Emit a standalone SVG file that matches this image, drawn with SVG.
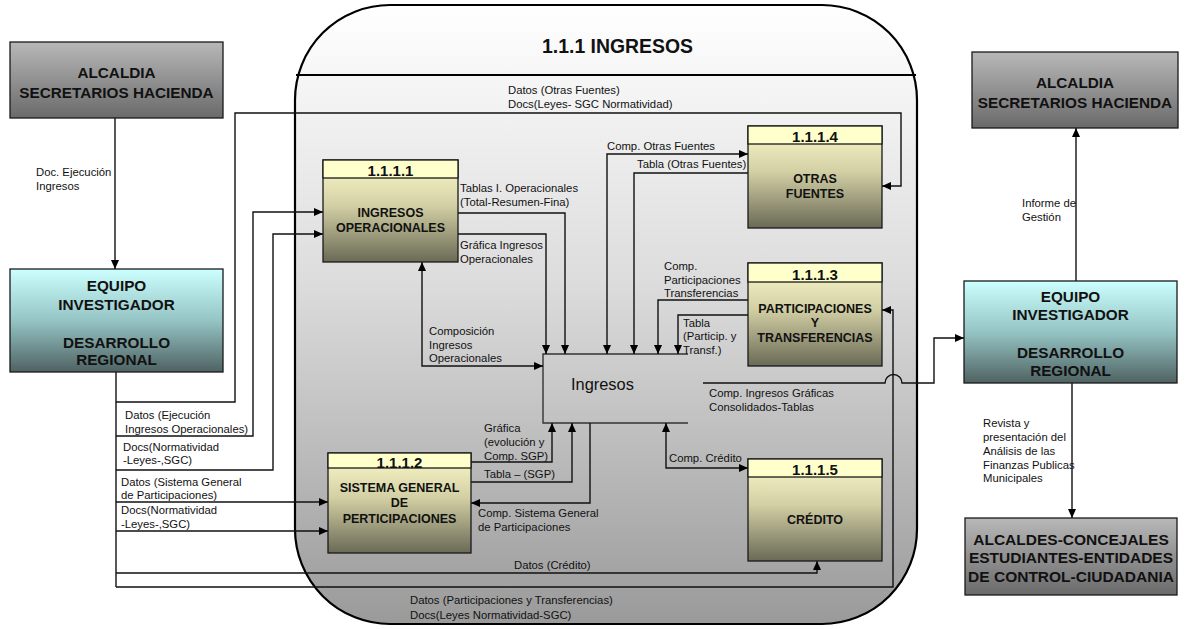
<svg xmlns="http://www.w3.org/2000/svg" width="1185" height="629" viewBox="0 0 1185 629">
  <defs>
    <linearGradient id="gCont" x1="0" y1="0" x2="0" y2="1">
      <stop offset="0" stop-color="#ffffff"/>
      <stop offset="0.45" stop-color="#dcdcdc"/>
      <stop offset="1" stop-color="#9a9a9a"/>
    </linearGradient>
    <linearGradient id="gProc" x1="0" y1="0" x2="0" y2="1">
      <stop offset="0" stop-color="#fdfbcd"/>
      <stop offset="0.45" stop-color="#d2cfa4"/>
      <stop offset="1" stop-color="#6a6a56"/>
    </linearGradient>
    <linearGradient id="gGray" x1="0" y1="0" x2="0" y2="1">
      <stop offset="0" stop-color="#b8b8b8"/>
      <stop offset="1" stop-color="#6a6a6a"/>
    </linearGradient>
    <linearGradient id="gCyan" x1="0" y1="0" x2="0" y2="1">
      <stop offset="0" stop-color="#ccffff"/>
      <stop offset="0.5" stop-color="#95c4c4"/>
      <stop offset="1" stop-color="#4f6262"/>
    </linearGradient>
    <marker id="ah" markerUnits="userSpaceOnUse" markerWidth="10" markerHeight="9" refX="9" refY="4" orient="auto-start-reverse">
      <path d="M0,0 L9,4 L0,8 Z" fill="#000"/>
    </marker>
  </defs>
  <style>
    text{font-family:"Liberation Sans",Arial,sans-serif;fill:#111}
    .lbl{font-size:11.3px}
    .ext{font-size:15.3px;font-weight:bold;text-anchor:middle}
    .big{font-size:15.5px;font-weight:bold;text-anchor:middle}
    .pid{font-size:15px;font-weight:bold;text-anchor:middle}
    .pname{font-size:12.5px;font-weight:bold;text-anchor:middle}
    .edge{fill:none;stroke:#111;stroke-width:1.4}
    .arr{marker-end:url(#ah)}
    .both{marker-start:url(#ah);marker-end:url(#ah)}
    .frame{stroke:#1a1a1a;stroke-width:1.3}
    .hdr{fill:#ffffcc;stroke:#1a1a1a;stroke-width:1.3}
  </style>

  <rect width="1185" height="629" fill="#ffffff"/>

  <!-- 1.1.1 process boundary -->
  <g id="ingresos-boundary">
    <path d="M390,5 H822 A95,95 0 0 1 917,100 V529 A95,95 0 0 1 822,624 H390 A95,95 0 0 1 295,529 V100 A95,95 0 0 1 390,5 Z" fill="url(#gCont)" stroke="#000" stroke-width="2.2"/>
    <line x1="296" y1="75" x2="916" y2="75" stroke="#000" stroke-width="2"/>
    <text x="617.5" y="53" style="font-size:19.4px;font-weight:bold;text-anchor:middle">1.1.1 INGRESOS</text>
  </g>

  <!-- data store -->
  <g id="store-ingresos">
    <path d="M688,354 H543 V423 H688" fill="none" stroke="#333" stroke-width="1.4"/>
    <text x="571" y="390" style="font-size:16.4px">Ingresos</text>
  </g>

  <!-- flows -->
  <g id="connectors">
    <path class="edge arr" d="M115,118 V269"/>
    <path class="edge" d="M116,372 V587"/>
    <path class="edge arr" d="M116,402 H235 V113 H901 V186 H882"/>
    <path class="edge arr" d="M116,436 H253 V212 H323"/>
    <path class="edge arr" d="M116,470 H273 V234 H323"/>
    <path class="edge arr" d="M116,502 H328"/>
    <path class="edge arr" d="M116,531 H328"/>
    <path class="edge arr" d="M116,573 H817 V561"/>
    <path class="edge arr" d="M116,587 H893 V310 H882"/>

    <path class="edge arr" d="M458,213 H565 V354"/>
    <path class="edge arr" d="M458,234 H546 V354"/>
    <path class="edge both" d="M422,262 V366 H543"/>
    <path class="edge both" d="M748,154 H607 V354"/>
    <path class="edge arr" d="M748,173 H634 V354"/>
    <path class="edge arr" d="M748,300 H658 V354"/>
    <path class="edge arr" d="M748,315 H678 V354"/>

    <path class="edge arr" d="M471,462 H552 V423"/>
    <path class="edge arr" d="M471,482 H572 V423"/>
    <path class="edge arr" d="M590,423 V503 H471"/>
    <path class="edge both" d="M666,423 V468 H748"/>

    <path class="edge arr" d="M703,383 H885 A8.5,8.5 0 0 1 902,383 H934 V338 H964"/>
    <path class="edge arr" d="M1076,281 V128"/>
    <path class="edge arr" d="M1072,383 V518"/>

    <!-- flow labels -->
    <text class="lbl" x="36" y="176">Doc. Ejecución</text>
    <text class="lbl" x="36" y="190">Ingresos</text>
    <text class="lbl" x="508" y="94">Datos (Otras Fuentes)</text>
    <text class="lbl" x="508" y="108">Docs(Leyes- SGC Normatividad)</text>
    <text class="lbl" x="125" y="419">Datos (Ejecución</text>
    <text class="lbl" x="125" y="433">Ingresos Operacionales)</text>
    <text class="lbl" x="123" y="451">Docs(Normatividad</text>
    <text class="lbl" x="123" y="464">-Leyes-,SGC)</text>
    <text class="lbl" x="121" y="486">Datos (Sistema General</text>
    <text class="lbl" x="121" y="499">de Participaciones)</text>
    <text class="lbl" x="121" y="514">Docs(Normatividad</text>
    <text class="lbl" x="121" y="528">-Leyes-,SGC)</text>
    <text class="lbl" x="514" y="569">Datos (Crédito)</text>
    <text class="lbl" x="410" y="604">Datos (Participaciones y Transferencias)</text>
    <text class="lbl" x="410" y="619">Docs(Leyes Normatividad-SGC)</text>

    <text class="lbl" x="460" y="192">Tablas I. Operacionales</text>
    <text class="lbl" x="460" y="206">(Total-Resumen-Fina)</text>
    <text class="lbl" x="460" y="249">Gráfica Ingresos</text>
    <text class="lbl" x="460" y="263">Operacionales</text>
    <text class="lbl" x="429" y="335">Composición</text>
    <text class="lbl" x="429" y="349">Ingresos</text>
    <text class="lbl" x="429" y="362">Operacionales</text>
    <text class="lbl" x="607" y="150">Comp. Otras Fuentes</text>
    <text class="lbl" x="637" y="168">Tabla (Otras Fuentes)</text>
    <text class="lbl" x="664" y="270">Comp.</text>
    <text class="lbl" x="664" y="284">Participaciones</text>
    <text class="lbl" x="664" y="297">Transferencias</text>
    <text class="lbl" x="683" y="327">Tabla</text>
    <text class="lbl" x="683" y="340">(Particip. y</text>
    <text class="lbl" x="683" y="354">Transf.)</text>
    <text class="lbl" x="709" y="397">Comp. Ingresos Gráficas</text>
    <text class="lbl" x="709" y="411">Consolidados-Tablas</text>
    <text class="lbl" x="484" y="432">Gráfica</text>
    <text class="lbl" x="484" y="446">(evolución y</text>
    <text class="lbl" x="484" y="460">Comp. SGP)</text>
    <text class="lbl" x="484" y="478">Tabla – (SGP)</text>
    <text class="lbl" x="478" y="517">Comp. Sistema General</text>
    <text class="lbl" x="478" y="531">de Participaciones</text>
    <text class="lbl" x="669" y="462">Comp. Crédito</text>

    <text class="lbl" x="1022" y="207">Informe de</text>
    <text class="lbl" x="1022" y="221">Gestión</text>
    <text class="lbl" x="983" y="427">Revista y</text>
    <text class="lbl" x="983" y="441">presentación del</text>
    <text class="lbl" x="983" y="455">Análisis de las</text>
    <text class="lbl" x="983" y="469">Finanzas Publicas</text>
    <text class="lbl" x="983" y="482">Municipales</text>
  </g>

  <!-- external entities -->
  <g id="alcaldia-left">
    <rect class="frame" x="10" y="42" width="213" height="76" fill="url(#gGray)"/>
    <text class="ext" x="116.5" y="78">ALCALDIA</text>
    <text class="ext" x="116.5" y="98">SECRETARIOS HACIENDA</text>
  </g>
  <g id="equipo-left">
    <rect class="frame" x="10" y="269" width="213" height="103" fill="url(#gCyan)"/>
    <text class="ext" x="116.5" y="291">EQUIPO</text>
    <text class="ext" x="116.5" y="310">INVESTIGADOR</text>
    <text class="ext" x="116.5" y="348">DESARROLLO</text>
    <text class="ext" x="116.5" y="365">REGIONAL</text>
  </g>
  <g id="alcaldia-right">
    <rect class="frame" x="972" y="52" width="206" height="76" fill="url(#gGray)"/>
    <text class="ext" x="1075" y="88">ALCALDIA</text>
    <text class="ext" x="1075" y="108">SECRETARIOS HACIENDA</text>
  </g>
  <g id="equipo-right">
    <rect class="frame" x="964" y="281" width="213" height="102" fill="url(#gCyan)"/>
    <text class="ext" x="1070.5" y="302">EQUIPO</text>
    <text class="ext" x="1070.5" y="320">INVESTIGADOR</text>
    <text class="ext" x="1070.5" y="358">DESARROLLO</text>
    <text class="ext" x="1070.5" y="376">REGIONAL</text>
  </g>
  <g id="alcaldes">
    <rect class="frame" x="965" y="518" width="212" height="77" fill="url(#gGray)"/>
    <text class="big" x="1071" y="545">ALCALDES-CONCEJALES</text>
    <text class="big" x="1071" y="563">ESTUDIANTES-ENTIDADES</text>
    <text class="big" x="1071" y="582">DE CONTROL-CIUDADANIA</text>
  </g>

  <!-- processes -->
  <g id="p1111">
    <rect class="frame" x="323" y="160" width="135" height="102" fill="url(#gProc)"/>
    <rect class="hdr" x="323" y="160" width="135" height="18"/>
    <text class="pid" x="390.5" y="176">1.1.1.1</text>
    <text class="pname" x="390.5" y="217">INGRESOS</text>
    <text class="pname" x="390.5" y="232">OPERACIONALES</text>
  </g>
  <g id="p1112">
    <rect class="frame" x="328" y="453" width="143" height="100" fill="url(#gProc)"/>
    <rect class="hdr" x="328" y="453" width="143" height="15"/>
    <text class="pid" x="399.5" y="468">1.1.1.2</text>
    <text class="pname" x="399.5" y="492">SISTEMA GENERAL</text>
    <text class="pname" x="399.5" y="507">DE</text>
    <text class="pname" x="399.5" y="523">PERTICIPACIONES</text>
  </g>
  <g id="p1113">
    <rect class="frame" x="748" y="263" width="134" height="103" fill="url(#gProc)"/>
    <rect class="hdr" x="748" y="263" width="134" height="19"/>
    <text class="pid" x="815" y="280">1.1.1.3</text>
    <text class="pname" x="815" y="313">PARTICIPACIONES</text>
    <text class="pname" x="815" y="327">Y</text>
    <text class="pname" x="815" y="342">TRANSFERENCIAS</text>
  </g>
  <g id="p1114">
    <rect class="frame" x="748" y="126" width="134" height="102" fill="url(#gProc)"/>
    <rect class="hdr" x="748" y="126" width="134" height="18"/>
    <text class="pid" x="815" y="142">1.1.1.4</text>
    <text class="pname" x="815" y="183">OTRAS</text>
    <text class="pname" x="815" y="198">FUENTES</text>
  </g>
  <g id="p1115">
    <rect class="frame" x="748" y="459" width="134" height="102" fill="url(#gProc)"/>
    <rect class="hdr" x="748" y="459" width="134" height="18"/>
    <text class="pid" x="815" y="475">1.1.1.5</text>
    <text class="pname" x="815" y="524">CRÉDITO</text>
  </g>
</svg>
